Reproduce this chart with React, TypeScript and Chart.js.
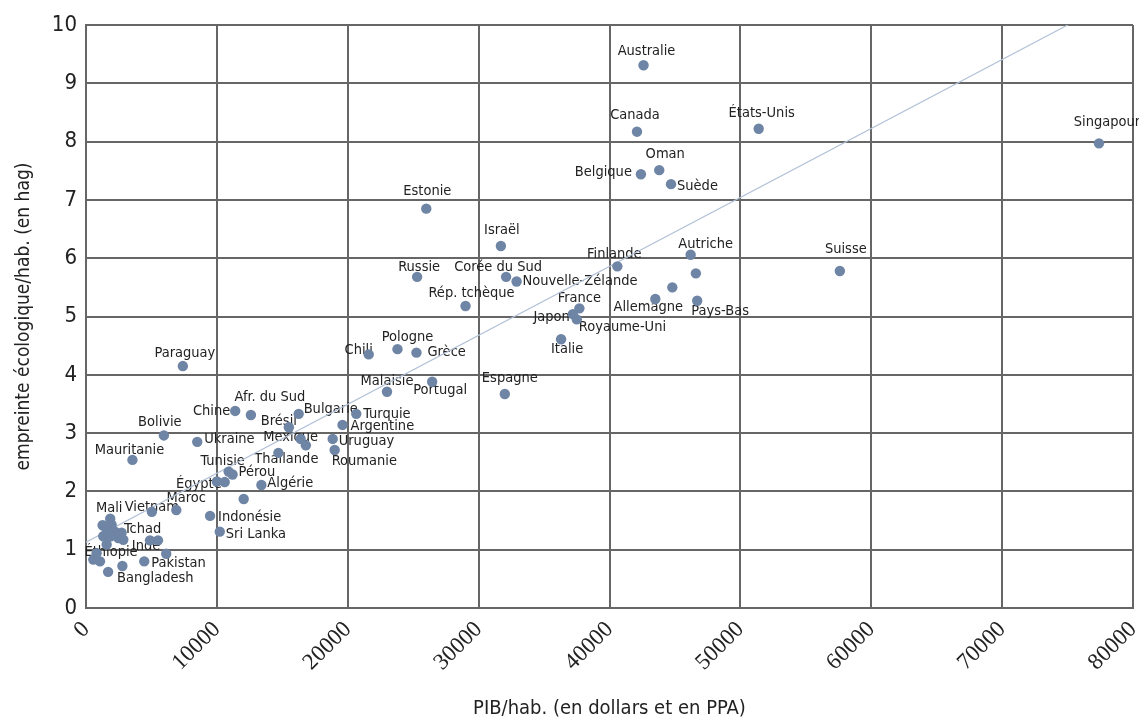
import React, { useEffect, useRef } from "react";
import { Chart, registerables } from "chart.js";

Chart.register(...registerables);

// ---- Data ----
const countries: string[] = [
  "Australie", "Canada", "États-Unis", "Singapour", "Oman", "Belgique", "Suède",
  "Estonie", "Israël", "Autriche", "Finlande", "", "Suisse", "Russie", "Corée du Sud",
  "Nouvelle-Zélande", "", "Allemagne", "Pays-Bas", "Rép. tchèque", "France", "Japon",
  "Royaume-Uni", "Italie", "Chili", "Pologne", "Grèce", "Paraguay", "Portugal", "Malaisie",
  "Espagne", "Chine", "Afr. du Sud", "Bulgarie", "Turquie", "Argentine", "Brésil", "Bolivie",
  "Mexique", "", "Uruguay", "Ukraine", "Roumanie", "Thaïlande", "Mauritanie", "Tunisie",
  "Pérou", "Égypte", "", "Algérie", "", "Maroc", "Vietnam", "Indonésie", "Mali", "", "",
  "", "", "Tchad", "", "", "", "", "", "Sri Lanka", "Inde", "", "", "Pakistan", "",
  "Bangladesh", "Éthiopie", "", "",
];

const gdpPerCapita: number[] = [
  42600, 42100, 51400, 77400, 43800, 42400, 44700,
  26000, 31700, 46200, 40600, 46600, 57600, 25300, 32100,
  32900, 44800, 43500, 46700, 29000, 37700, 37200,
  37500, 36300, 21600, 23800, 25250, 7400, 26450, 23000,
  32000, 11400, 12600, 16250, 20650, 19600, 15500, 5950,
  16400, 16800, 18850, 8500, 19000, 14700, 3550, 10900,
  11200, 10000, 10600, 13400, 12050, 6900, 5030, 9480, 1850, 1270, 1960,
  1580, 2210, 2720, 1320, 1880, 2470, 2850, 1580, 10220, 4890, 5500, 6130, 4450, 2780,
  1690, 1070, 560, 810,
];

const footprint: number[] = [
  9.31, 8.17, 8.22, 7.97, 7.51, 7.44, 7.27,
  6.85, 6.21, 6.06, 5.86, 5.74, 5.78, 5.68, 5.68,
  5.60, 5.50, 5.30, 5.27, 5.18, 5.14, 5.04,
  4.95, 4.61, 4.35, 4.44, 4.38, 4.15, 3.88, 3.71,
  3.67, 3.38, 3.31, 3.33, 3.33, 3.14, 3.10, 2.96,
  2.90, 2.79, 2.90, 2.85, 2.71, 2.66, 2.54, 2.34,
  2.29, 2.17, 2.16, 2.11, 1.87, 1.68, 1.65, 1.58, 1.53, 1.42, 1.43,
  1.34, 1.31, 1.29, 1.23, 1.23, 1.20, 1.17, 1.09, 1.31, 1.16, 1.16, 0.93, 0.80, 0.72,
  0.62, 0.80, 0.83, 0.94,
];

const trendX: number[] = [0, 80000];
const trendY: number[] = [1.13, 10.59];

const xTickValues: number[] = [0, 10000, 20000, 30000, 40000, 50000, 60000, 70000, 80000];
const yTickValues: number[] = [0, 1, 2, 3, 4, 5, 6, 7, 8, 9, 10];

const xTitle = "PIB/hab. (en dollars et en PPA)";
const yTitle = "empreinte écologique/hab. (en hag)";

// label placement (pixel offset from point, text alignment)
const labelPlacement: Record<string, [number, number, CanvasTextAlign]> = {
  "Australie": [3, -14, "center"],
  "Canada": [-2, -16, "center"],
  "États-Unis": [3, -16, "center"],
  "Singapour": [8, -21, "center"],
  "Oman": [6, -16, "center"],
  "Belgique": [-9, -2, "right"],
  "Suède": [6, 2, "left"],
  "Estonie": [1, -17, "center"],
  "Israël": [1, -16, "center"],
  "Autriche": [15, -10, "center"],
  "Finlande": [-3, -12, "center"],
  "Suisse": [6, -22, "center"],
  "Russie": [2, -10, "center"],
  "Corée du Sud": [-8, -10, "center"],
  "Nouvelle-Zélande": [6, 0, "left"],
  "Allemagne": [-7, 8, "center"],
  "Pays-Bas": [23, 10, "center"],
  "Rép. tchèque": [6, -13, "center"],
  "France": [0, -10, "center"],
  "Japon": [-3, 3, "right"],
  "Royaume-Uni": [2, 8, "left"],
  "Italie": [6, 10, "center"],
  "Chili": [-10, -4, "center"],
  "Pologne": [10, -12, "center"],
  "Grèce": [11, 0, "left"],
  "Paraguay": [2, -13, "center"],
  "Portugal": [8, 8, "center"],
  "Malaisie": [0, -10, "center"],
  "Espagne": [5, -16, "center"],
  "Chine": [-5, 0, "right"],
  "Afr. du Sud": [19, -18, "center"],
  "Bulgarie": [5, -5, "left"],
  "Turquie": [7, 0, "left"],
  "Argentine": [8, 1, "left"],
  "Brésil": [-10, -6, "center"],
  "Bolivie": [-4, -13, "center"],
  "Mexique": [-10, -2, "center"],
  "Uruguay": [6, 2, "left"],
  "Ukraine": [7, -3, "left"],
  "Roumanie": [-3, 11, "left"],
  "Thaïlande": [8, 6, "center"],
  "Mauritanie": [-3, -10, "center"],
  "Tunisie": [-6, -10, "center"],
  "Pérou": [6, -2, "left"],
  "Égypte": [-18, 3, "center"],
  "Algérie": [6, -2, "left"],
  "Maroc": [10, -12, "center"],
  "Vietnam": [0, -5, "center"],
  "Indonésie": [8, 1, "left"],
  "Mali": [-1, -11, "center"],
  "Tchad": [21, -4, "center"],
  "Sri Lanka": [6, 3, "left"],
  "Inde": [-4, 6, "center"],
  "Pakistan": [7, 2, "left"],
  "Bangladesh": [9, 6, "left"],
  "Éthiopie": [11, -9, "center"],
};

const NARROW = '"DejaVu Sans Condensed", "Liberation Sans Narrow", "Liberation Sans", sans-serif';
const GRID = "#666666";
const DOT = "#6f85a5";

const labelPlugin = {
  id: "pointLabels",
  beforeDatasetsDraw(chart: any) {
    const meta = chart.getDatasetMeta(0);
    const ctx = chart.ctx as CanvasRenderingContext2D;
    ctx.save();
    ctx.font = `14.5px ${NARROW}`;
    ctx.fillStyle = "#222222";
    ctx.textBaseline = "middle";
    meta.data.forEach((el: any, i: number) => {
      const name = countries[i];
      if (!name) return;
      const p = labelPlacement[name] || [0, -14, "center"];
      ctx.textAlign = p[2];
      ctx.fillText(name, el.x + p[0], el.y + p[1]);
    });
    ctx.restore();
  },
};

export default function App() {
  const ref = useRef<HTMLCanvasElement | null>(null);

  useEffect(() => {
    if (!ref.current) return;
    const points = gdpPerCapita.map((x, i) => ({ x, y: footprint[i] }));
    const trend = trendX.map((x, i) => ({ x, y: trendY[i] }));
    const chart = new Chart(ref.current, {
      type: "scatter",
      data: {
        datasets: [
          {
            label: "pays",
            data: points,
            backgroundColor: DOT,
            borderColor: DOT,
            borderWidth: 0,
            pointRadius: 5.2,
          },
          {
            type: "line",
            label: "tendance",
            data: trend,
            borderColor: "#b3c2d8",
            borderWidth: 1.2,
            pointRadius: 0,
            fill: false,
          } as any,
        ],
      },
      options: {
        animation: false,
        responsive: false,
        maintainAspectRatio: false,
        layout: { padding: { top: 25, right: 6, left: 0, bottom: 0 } },
        plugins: {
          legend: { display: false },
          tooltip: { enabled: false },
        },
        scales: {
          x: {
            type: "linear",
            min: 0,
            max: 80000,
            afterBuildTicks: (scale: any) => {
              scale.ticks = xTickValues.map((v) => ({ value: v }));
            },
            afterFit: (scale: any) => {
              scale.height = 119;
              scale.paddingLeft = 0;
              scale.paddingRight = 0;
            },
            border: { color: GRID, width: 2 },
            grid: { color: GRID, lineWidth: 2, drawTicks: false },
            ticks: {
              minRotation: 45,
              maxRotation: 45,
              padding: 8,
              color: "#222222",
              font: { family: '"Liberation Serif", "DejaVu Serif", serif', size: 23 },
              callback: (v: any) => String(v),
            },
            title: {
              display: true,
              text: xTitle,
              color: "#222222",
              font: { family: NARROW, size: 20 },
              padding: { top: 0, bottom: 6 },
            },
          },
          y: {
            type: "linear",
            min: 0,
            max: 10,
            afterBuildTicks: (scale: any) => {
              scale.ticks = yTickValues.map((v) => ({ value: v }));
            },
            afterFit: (scale: any) => {
              scale.width = 86;
            },
            border: { color: GRID, width: 2 },
            grid: { color: GRID, lineWidth: 2, drawTicks: false },
            ticks: {
              padding: 9,
              color: "#222222",
              font: { family: NARROW, size: 22 },
              callback: (v: any) => String(v),
            },
            title: {
              display: true,
              text: yTitle,
              color: "#222222",
              font: { family: NARROW, size: 19 },
              padding: { top: 12.5, bottom: 0 },
            },
          },
        },
      },
      plugins: [labelPlugin],
    });
    return () => chart.destroy();
  }, []);

  return (
    <div style={{ position: "absolute", left: 0, top: 0, width: 1139, height: 727, background: "#fff" }}>
      <canvas ref={ref} width={1139} height={727} style={{ display: "block", width: 1139, height: 727 }} />
    </div>
  );
}
